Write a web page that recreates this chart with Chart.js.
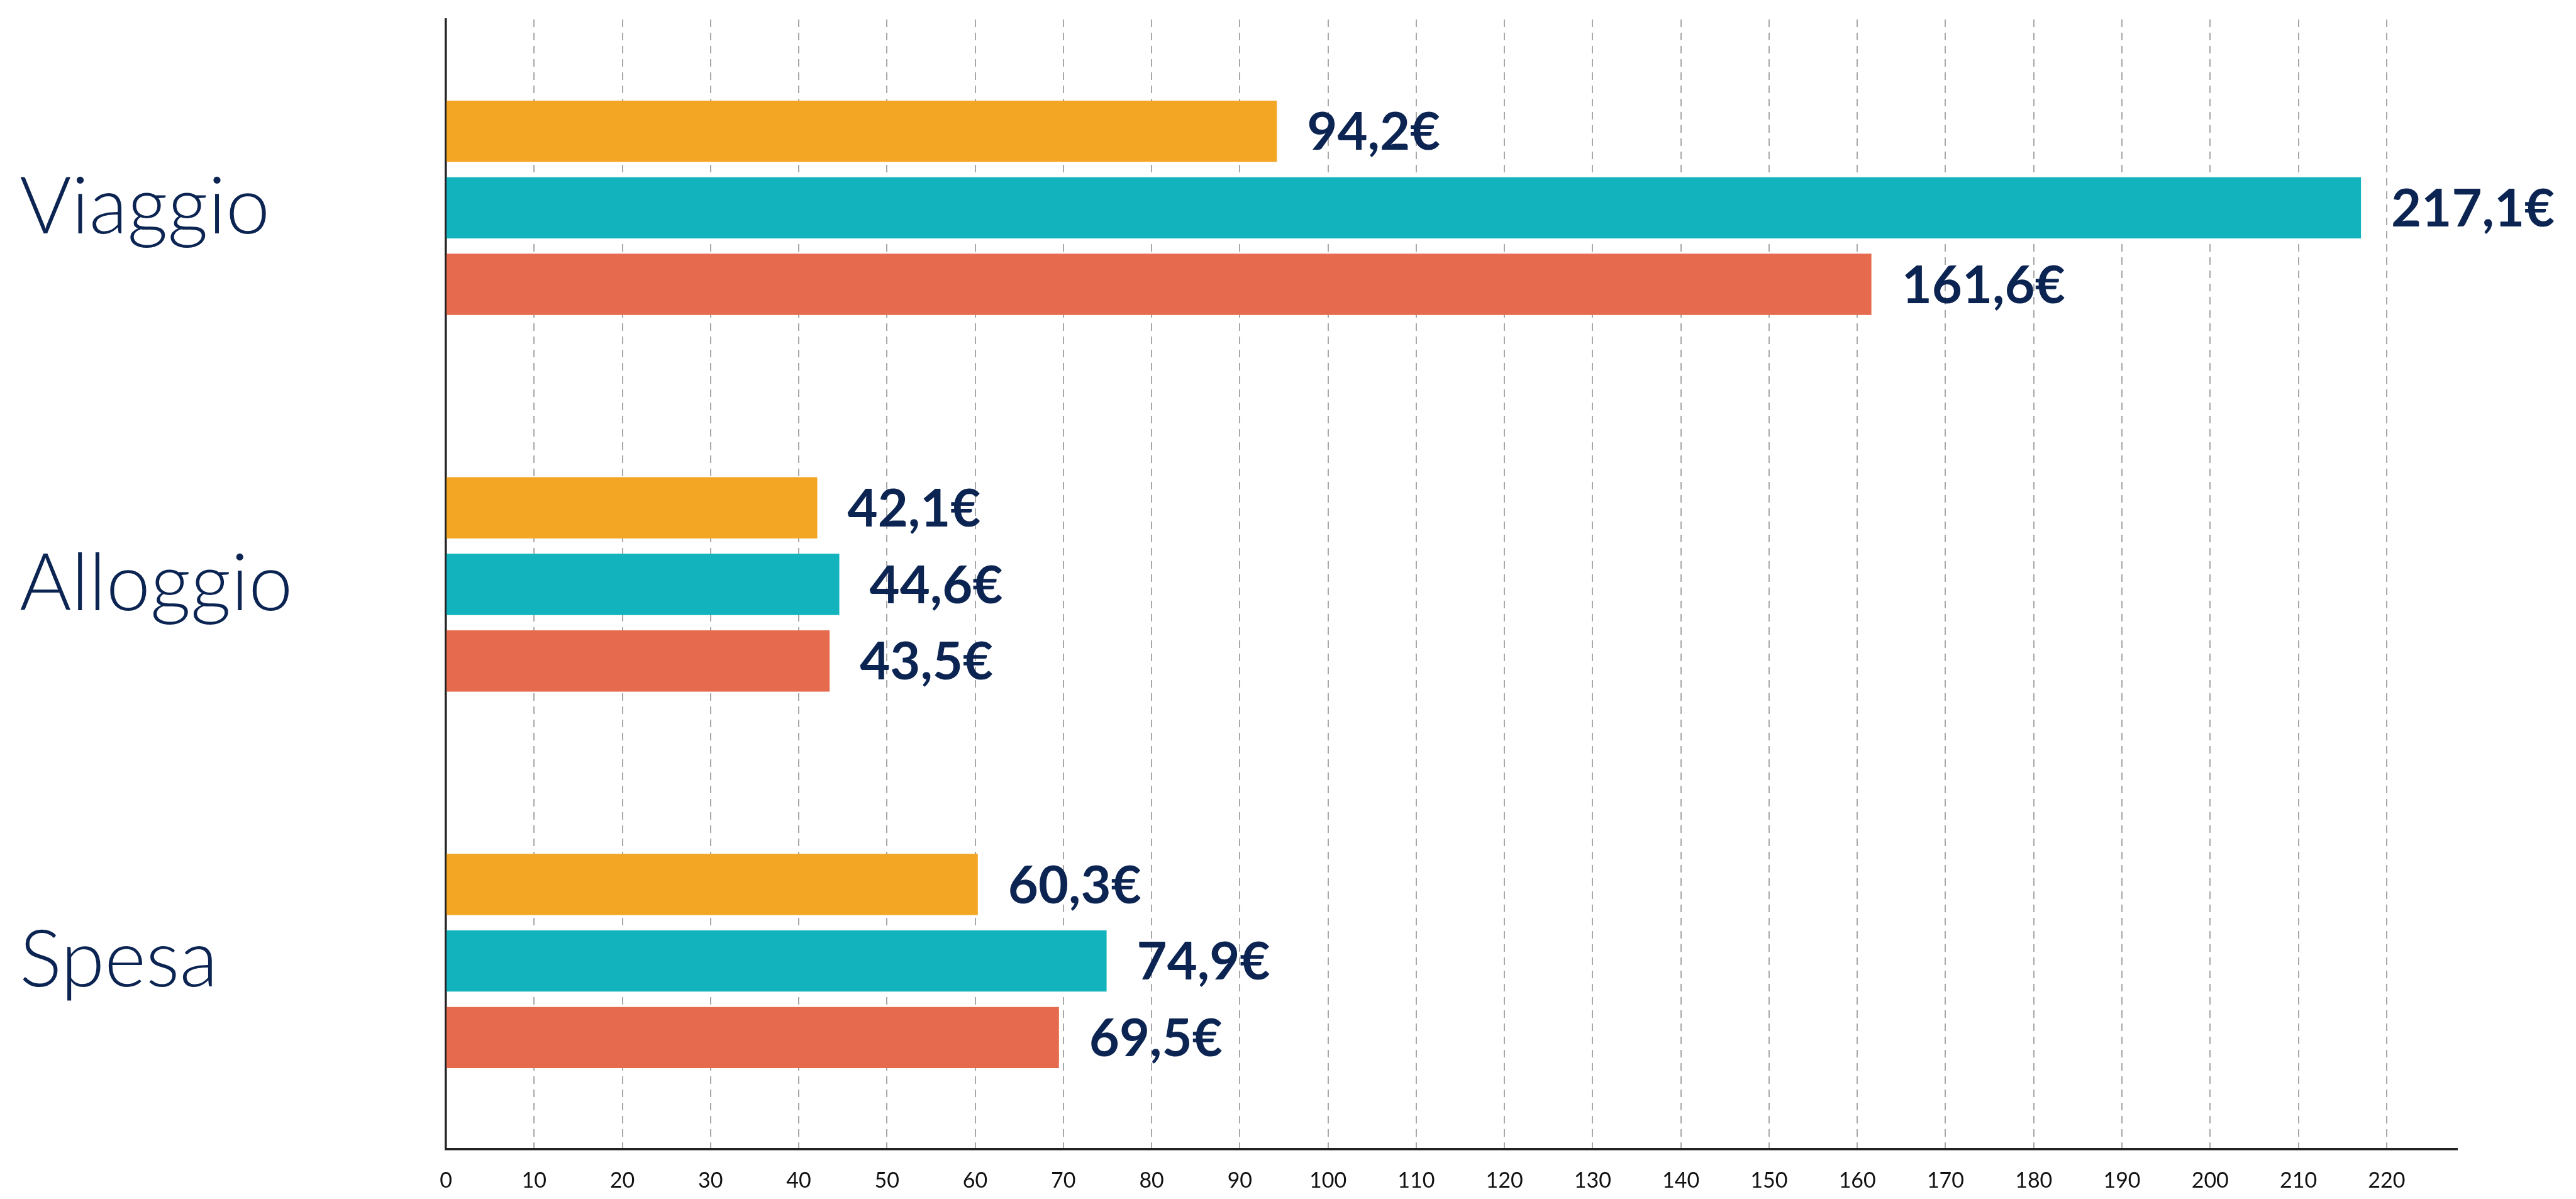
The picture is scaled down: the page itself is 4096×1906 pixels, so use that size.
<!DOCTYPE html>
<html>
<head>
<meta charset="utf-8">
<script src="https://cdn.jsdelivr.net/npm/chart.js@4/dist/chart.umd.min.js"></script>
<style>
  html, body { margin: 0; padding: 0; background: #ffffff; }
  #wrap { width: 4096px; height: 1906px; position: relative; }
</style>
</head>
<body>
<div id="wrap"><canvas id="spese-chart"></canvas></div>
<script>
const categories = ["Viaggio", "Alloggio", "Spesa"];
const serieArancio = [94.2, 42.1, 60.3];
const serieTurchese = [217.1, 44.6, 74.9];
const serieCorallo = [161.6, 43.5, 69.5];
const xMax = 228;
const xStep = 10;

const navy = "#0b2452";

// scrive "94,2€" a destra di ogni barra
const valueLabels = {
  id: "valueLabels",
  afterDatasetsDraw(chart) {
    const ctx = chart.ctx;
    ctx.save();
    ctx.font = "bold 83px Lato";
    ctx.fillStyle = navy;
    ctx.textAlign = "left";
    ctx.textBaseline = "middle";
    chart.data.datasets.forEach((ds, i) => {
      chart.getDatasetMeta(i).data.forEach((bar, j) => {
        const txt = ds.data[j].toFixed(1).replace(".", ",") + "€";
        ctx.fillText(txt, bar.x + 48, bar.y + 3);
      });
    });
    ctx.restore();
  },
};

const ctx = document.getElementById("spese-chart").getContext("2d");

new Chart(ctx, {
  type: "bar",
  data: {
    labels: categories,
    datasets: [
      { label: "A", data: serieArancio, backgroundColor: "#f3a624" },
      { label: "B", data: serieTurchese, backgroundColor: "#12b3bd" },
      { label: "C", data: serieCorallo, backgroundColor: "#e66b4e" },
    ],
  },
  options: {
    indexAxis: "y",
    responsive: true,
    maintainAspectRatio: false,
    animation: false,
    layout: { padding: { left: 31, top: 31, right: 189, bottom: 0 } },
    datasets: {
      bar: { categoryPercentage: 0.61, barPercentage: 0.8 },
    },
    plugins: {
      legend: { display: false },
      tooltip: { enabled: false },
    },
    scales: {
      x: {
        min: 0,
        max: xMax,
        afterBuildTicks: (axis) => {
          axis.ticks = axis.ticks.filter((t) => t.value % xStep === 0);
        },
        afterFit: (scale) => {
          scale.height = 79;
        },
        ticks: {
          stepSize: xStep,
          color: "#111111",
          padding: 30,
          font: { family: "Lato", size: 34 },
        },
        grid: {
          drawTicks: false,
          lineWidth: 2,
          color: (c) => (c.tick && c.tick.value === 0 ? "rgba(0,0,0,0)" : "#a8a8a8"),
        },
        border: { color: "#222222", width: 3.5, dash: [12, 9] },
      },
      y: {
        afterFit: (scale) => {
          scale.width = 678;
        },
        ticks: {
          crossAlign: "far",
          color: navy,
          font: { family: "Lato", size: 126, weight: "300", lineHeight: 0.4 },
        },
        grid: { display: false, drawTicks: false },
        border: { color: "#222222", width: 3.5 },
      },
    },
  },
  plugins: [valueLabels],
});
</script>
</body>
</html>
